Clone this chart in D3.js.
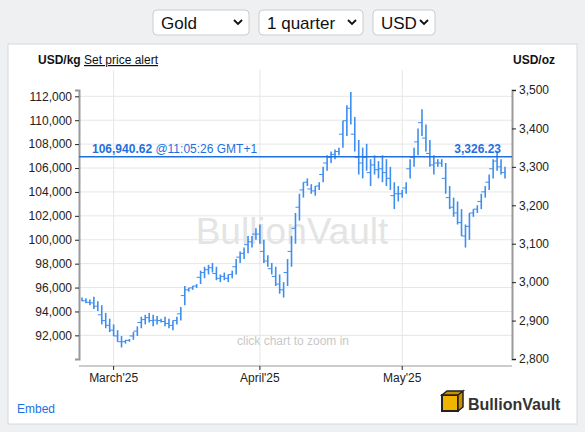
<!DOCTYPE html><html><head><meta charset="utf-8">
<script src="https://cdn.jsdelivr.net/npm/d3@7"></script>
<style>body{margin:0;background:#eef0f2;font-family:Arial,"Liberation Sans",sans-serif}</style></head><body>
<svg id="c" width="585" height="432"></svg>
<script>
const selectors=["Gold","1 quarter","USD"];
const leftTicks=[92000,94000,96000,98000,100000,102000,104000,106000,108000,110000,112000];
const rightTicks=[2800,2900,3000,3100,3200,3300,3400,3500];
const monthLabels=["March'25","April'25","May'25"];
const monthIndex=[8,45,81];
const lows=[2950,2945,2940,2930,2925,2890,2880,2870,2860,2845,2830,2840,2845,2850,2860,2880,2890,2895,2885,2890,2895,2885,2880,2875,2890,2900,2940,2975,2980,2985,2995,3010,3020,3025,3005,3000,3005,3000,3010,3020,3050,3060,3075,3090,3110,3100,3050,3040,3020,2990,2970,2960,2990,3040,3100,3160,3220,3250,3230,3225,3240,3260,3290,3310,3320,3330,3350,3380,3410,3340,3280,3270,3290,3250,3280,3270,3260,3250,3240,3190,3210,3220,3230,3270,3300,3330,3380,3340,3300,3280,3300,3300,3230,3190,3170,3150,3120,3090,3110,3170,3180,3190,3220,3240,3270,3290,3280,3270];
const highs=[2960,2958,2955,2962,2950,2940,2920,2905,2890,2875,2860,2850,2852,2870,2885,2910,2915,2920,2915,2912,2905,2910,2905,2900,2910,2935,2990,2985,2990,2995,3030,3040,3045,3050,3040,3020,3025,3020,3030,3060,3080,3090,3120,3120,3140,3150,3110,3070,3050,3040,3020,3000,3060,3120,3180,3230,3260,3270,3255,3250,3260,3300,3330,3340,3345,3350,3420,3460,3495,3430,3370,3350,3360,3320,3330,3315,3330,3320,3300,3260,3250,3240,3260,3320,3350,3400,3450,3410,3370,3330,3320,3320,3310,3250,3220,3210,3190,3150,3180,3190,3200,3230,3250,3280,3320,3340,3320,3300];
const spotKg="106,940.62", spotOz="3,326.23", spotTime="@11:05:26 GMT+1";
const KG=32.1507466;
const svg=d3.select("#c");
const selX=[153,259,373], selW=[96,104,62];
selectors.forEach((s,i)=>{
 svg.append("rect").attr("x",selX[i]).attr("y",10).attr("width",selW[i]).attr("height",25).attr("rx",4).attr("fill","#fff").attr("stroke","#ccc");
 svg.append("text").attr("x",selX[i]+8).attr("y",29).attr("font-size",17).attr("fill","#111").text(s);
 svg.append("path").attr("d",`M${selX[i]+selW[i]-15},20 l4,4 l4,-4`).attr("fill","none").attr("stroke","#111").attr("stroke-width",1.8);
});
svg.append("rect").attr("x",8).attr("y",44).attr("width",569).attr("height",380).attr("fill","#fff").attr("stroke","#d8d8d8");
const y=d3.scaleLinear().domain([2800,3500]).range([359,90]);
const yk=d3.scaleLinear().domain([2800*KG,3500*KG]).range([359,90]);
const x=d3.scaleLinear().domain([0,lows.length-1]).range([82,505]);
const L=79,R=512;
leftTicks.forEach(t=>svg.append("line").attr("x1",L).attr("x2",R).attr("y1",yk(t)).attr("y2",yk(t)).attr("stroke","#e6e6e6"));
monthIndex.forEach(m=>svg.append("line").attr("x1",x(m)).attr("x2",x(m)).attr("y1",70).attr("y2",365).attr("stroke","#e6e6e6"));
svg.append("text").attr("x",292).attr("y",244).attr("text-anchor","middle").attr("font-size",37).attr("fill","#e4e4e4").text("BullionVault");
svg.append("text").attr("x",293).attr("y",345).attr("text-anchor","middle").attr("font-size",12).attr("fill","#c8c8c8").text("click chart to zoom in");
const la=svg.append("g").attr("transform",`translate(${L},0)`).call(d3.axisLeft(yk).tickValues(leftTicks).tickSize(4).tickFormat(d3.format(",")));
la.select(".domain").attr("stroke","#999").attr("stroke-width",2);
const ra=svg.append("g").attr("transform",`translate(${R},0)`).call(d3.axisRight(y).tickValues(rightTicks).tickSize(4).tickFormat(d3.format(",")));
ra.select(".domain").attr("stroke","#999").attr("stroke-width",2);
[la,ra].forEach(a=>{a.selectAll("text").attr("font-size",12).attr("fill","#222").attr("font-family","Arial");a.selectAll(".tick line").attr("stroke","#222")});
svg.append("line").attr("x1",L).attr("x2",R).attr("y1",366).attr("y2",366).attr("stroke","#999").attr("stroke-width",1);
monthIndex.forEach((m,i)=>{svg.append("line").attr("x1",x(m)).attr("x2",x(m)).attr("y1",366).attr("y2",370).attr("stroke","#222");
 svg.append("text").attr("x",x(m)).attr("y",382).attr("text-anchor","middle").attr("font-size",12).attr("fill","#222").text(monthLabels[i]);});
lows.forEach((lo,i)=>{
 svg.append("line").attr("x1",x(i)).attr("x2",x(i)).attr("y1",y(lo)).attr("y2",y(highs[i])).attr("stroke","#3d8ef0").attr("stroke-width",1.6);
 if(i>0) svg.append("line").attr("x1",x(i-1)).attr("x2",x(i)).attr("y1",y((lo+highs[i])/2)).attr("y2",y((lo+highs[i])/2)).attr("stroke","#3d8ef0").attr("stroke-width",1);
});
const sy=y(3326.23);
svg.append("line").attr("x1",L).attr("x2",R).attr("y1",sy).attr("y2",sy).attr("stroke","#1f6fe0").attr("stroke-width",1.5);
const st=svg.append("text").attr("x",92).attr("y",sy-4).attr("font-size",12).attr("fill","#1f6fe0");
st.append("tspan").attr("font-weight","bold").text(spotKg+" ");st.append("tspan").text(spotTime);
svg.append("text").attr("x",501).attr("y",sy-4).attr("text-anchor","end").attr("font-size",12).attr("font-weight","bold").attr("fill","#1f6fe0").text(spotOz);
svg.append("text").attr("x",38).attr("y",64).attr("font-size",12).attr("font-weight","bold").attr("fill","#111").text("USD/kg");
svg.append("text").attr("x",84).attr("y",64).attr("font-size",12).attr("fill","#111").attr("text-decoration","underline").text("Set price alert");
svg.append("text").attr("x",555).attr("y",64).attr("text-anchor","end").attr("font-size",12).attr("font-weight","bold").attr("fill","#111").text("USD/oz");
svg.append("text").attr("x",17).attr("y",413).attr("font-size",12).attr("fill","#1f6fe0").text("Embed");
const g=svg.append("g").attr("transform","translate(442,391)");
g.append("rect").attr("x",0).attr("y",4).attr("width",16).attr("height",16).attr("fill","#f0b400").attr("stroke","#222").attr("stroke-width",2);
g.append("path").attr("d","M0,4 l5,-4 h16 l-5,4z M16,4 l5,-4 v16 l-5,4z").attr("fill","#c98f00").attr("stroke","#222").attr("stroke-width",1.5);
g.append("text").attr("x",26).attr("y",19).attr("font-size",16).attr("font-weight","bold").attr("fill","#333").text("BullionVault");
</script></body></html>
